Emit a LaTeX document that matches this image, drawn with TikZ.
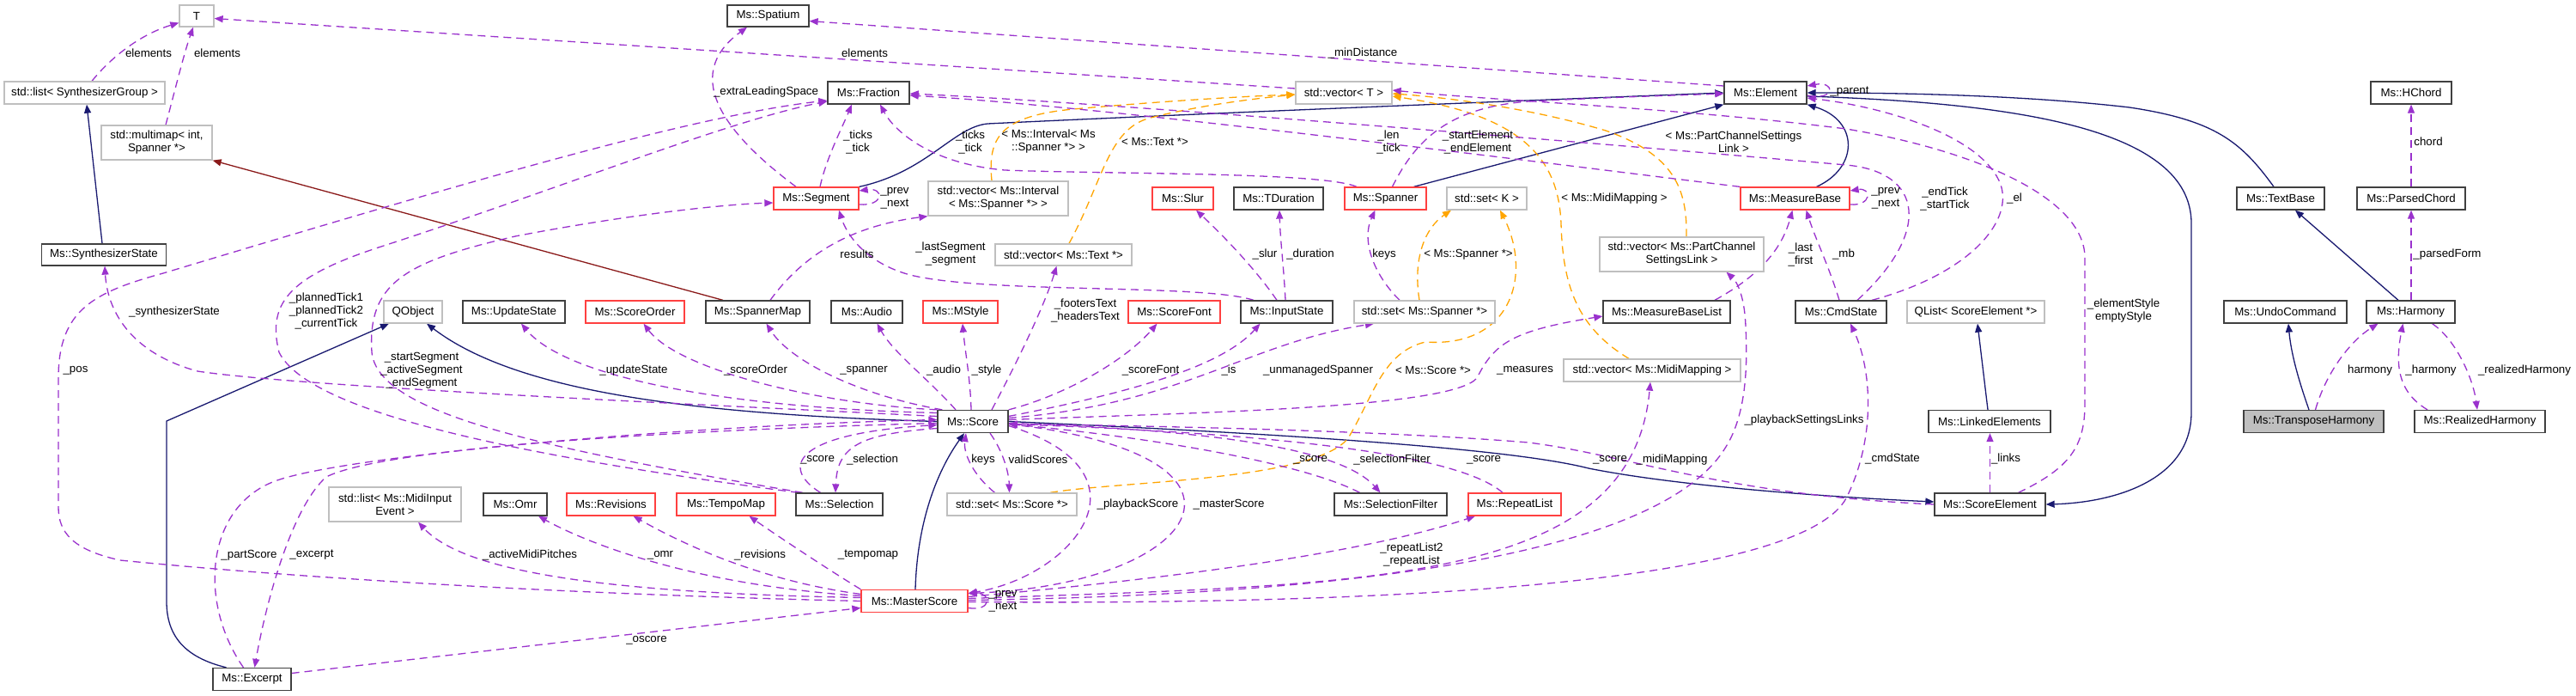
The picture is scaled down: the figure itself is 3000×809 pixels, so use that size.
\documentclass[tikz,border=0pt]{standalone}
\usepackage{fontspec}
\setmainfont{Liberation Sans}
\usetikzlibrary{arrows.meta,backgrounds}
\definecolor{navy}{HTML}{191970}
\definecolor{usec}{HTML}{9A32CD}
\definecolor{orng}{HTML}{FFA500}
\definecolor{dred}{HTML}{8B1A1A}
\definecolor{bord}{HTML}{404040}
\definecolor{redb}{HTML}{FF4040}
\definecolor{grayb}{HTML}{BFBFBF}
\newcommand\nf{\fontsize{13.3}{15}\selectfont}
\tikzset{
  cls/.style={rectangle, draw=bord, line width=1.3pt, fill=white, minimum height=26pt, inner sep=0pt, align=center, font=\nf},
  rcls/.style={cls, draw=redb},
  gcls/.style={cls, draw=grayb},
  lbl/.style={inner sep=0pt, align=center, font=\nf},
  usedge/.style={draw=usec, line width=1.3pt, dash pattern=on 9pt off 6pt, -{Triangle[length=10pt,width=8pt,fill=usec]}},
  inhedge/.style={draw=navy, line width=1.3pt, -{Triangle[length=10pt,width=8pt,fill=navy]}},
  tmpledge/.style={draw=orng, line width=1.3pt, dash pattern=on 9pt off 6pt, -{Triangle[length=10pt,width=8pt,fill=orng]}},
  instedge/.style={draw=dred, line width=1.3pt, -{Triangle[length=10pt,width=8pt,fill=dred]}},
}
\begin{document}
\begin{tikzpicture}[x=1pt,y=-1pt]
\useasboundingbox (0,0) rectangle (3000,809);
% ---------------- nodes
\node[gcls, minimum width=40pt, minimum height=25pt] (T) at (229,18.5) {T};
\node[cls, minimum width=95pt, minimum height=25pt] (spatium) at (894.5,18.5) {Ms::Spatium};
\node[gcls, minimum width=187pt] (listsg) at (98.5,108) {std::list< SynthesizerGroup >};
\node[cls, minimum width=95pt] (fraction) at (1011.5,108) {Ms::Fraction};
\node[gcls, minimum width=112pt] (vecT) at (1565,108) {std::vector< T >};
\node[cls, minimum width=96pt] (element) at (2056,108) {Ms::Element};
\node[cls, minimum width=94pt] (hchord) at (2808,108) {Ms::HChord};
\node[gcls, minimum width=129pt, minimum height=40pt] (multimap) at (182.5,166) {std::multimap< int,\\Spanner *>};
\node[rcls, minimum width=99pt] (segment) at (950.5,231) {Ms::Segment};
\node[gcls, minimum width=163pt, minimum height=40pt] (vecInt) at (1162.5,231) {std::vector< Ms::Interval\\< Ms::Spanner *> >};
\node[rcls, minimum width=71pt] (slur) at (1377.5,231) {Ms::Slur};
\node[cls, minimum width=104pt] (tduration) at (1489,231) {Ms::TDuration};
\node[rcls, minimum width=95pt] (spanner) at (1613.5,231) {Ms::Spanner};
\node[gcls, minimum width=93pt] (setK) at (1731.5,231) {std::set< K >};
\node[rcls, minimum width=127pt] (measurebase) at (2090.5,231) {Ms::MeasureBase};
\node[cls, minimum width=102pt] (textbase) at (2656,231) {Ms::TextBase};
\node[cls, minimum width=126pt] (parsedchord) at (2808,231) {Ms::ParsedChord};
\node[cls, minimum width=145pt, minimum height=25pt] (synthstate) at (121,296.5) {Ms::SynthesizerState};
\node[gcls, minimum width=159pt, minimum height=25pt] (vecText) at (1238.5,296.5) {std::vector< Ms::Text *>};
\node[gcls, minimum width=191pt, minimum height=40pt] (vecPCSL) at (1958.5,296) {std::vector< Ms::PartChannel\\SettingsLink >};
\node[gcls, minimum width=68pt] (qobject) at (481,363) {QObject};
\node[cls, minimum width=119pt] (updatestate) at (598.5,363) {Ms::UpdateState};
\node[rcls, minimum width=115pt] (scoreorder) at (739.5,363) {Ms::ScoreOrder};
\node[cls, minimum width=121pt] (spannermap) at (882.5,363) {Ms::SpannerMap};
\node[cls, minimum width=83pt] (audio) at (1009.5,363) {Ms::Audio};
\node[rcls, minimum width=87pt] (mstyle) at (1118.5,363) {Ms::MStyle};
\node[rcls, minimum width=107pt] (scorefont) at (1367.5,363) {Ms::ScoreFont};
\node[cls, minimum width=107pt] (inputstate) at (1498.5,363) {Ms::InputState};
\node[gcls, minimum width=164pt] (setSpanner) at (1659,363) {std::set< Ms::Spanner *>};
\node[cls, minimum width=148pt] (mblist) at (1941,363) {Ms::MeasureBaseList};
\node[cls, minimum width=106pt] (cmdstate) at (2144,363) {Ms::CmdState};
\node[gcls, minimum width=160pt] (qlist) at (2301,363) {QList< ScoreElement *>};
\node[cls, minimum width=143pt] (undocmd) at (2661.5,363) {Ms::UndoCommand};
\node[cls, minimum width=103pt] (harmony) at (2807.5,363) {Ms::Harmony};
\node[gcls, minimum width=206pt] (vecMidi) at (1924,431) {std::vector< Ms::MidiMapping >};
\node[cls, minimum width=82pt] (score) at (1133,490.5) {Ms::Score};
\node[cls, minimum width=142pt] (linked) at (2317,490.5) {Ms::LinkedElements};
\node[cls, minimum width=163pt, fill=grayb] (transpose) at (2694.5,490.5) {Ms::TransposeHarmony};
\node[cls, minimum width=152pt] (realized) at (2888,490.5) {Ms::RealizedHarmony};
\node[gcls, minimum width=154pt, minimum height=40pt] (listMidi) at (460,587) {std::list< Ms::MidiInput\\Event >};
\node[cls, minimum width=74pt] (omr) at (600,587) {Ms::Omr};
\node[rcls, minimum width=103pt] (revisions) at (711.5,587) {Ms::Revisions};
\node[rcls, minimum width=115pt] (tempomap) at (845.5,587) {Ms::TempoMap};
\node[cls, minimum width=101pt] (selection) at (977.5,587) {Ms::Selection};
\node[gcls, minimum width=151pt] (setScore) at (1178.5,587) {std::set< Ms::Score *>};
\node[cls, minimum width=131pt] (selfilter) at (1619.5,587) {Ms::SelectionFilter};
\node[rcls, minimum width=108pt] (repeatlist) at (1764,587) {Ms::RepeatList};
\node[cls, minimum width=129pt] (scoreelement) at (2317.5,587) {Ms::ScoreElement};
\node[rcls, minimum width=124pt] (masterscore) at (1065,699.5) {Ms::MasterScore};
\node[cls, minimum width=91pt] (excerpt) at (293.5,790.5) {Ms::Excerpt};
% ---------------- labels
\node[lbl] (l1) at (173,62) {elements};
\node[lbl] (l2) at (253,62) {elements};
\node[lbl] (l3) at (1007,62) {elements};
\node[lbl] (l4) at (1587,62) {\_minDistance};
\node[lbl] (l5) at (892,107) {\_extraLeadingSpace};
\node[lbl] (l6) at (2154,107) {\_parent};
\node[lbl] (l7) at (999,165) {\_ticks\\\_tick};
\node[lbl] (l8) at (1130,165) {\_ticks\\\_tick};
\node[lbl] (l9) at (1221,165) {< Ms::Interval< Ms\\::Spanner *> >};
\node[lbl] (l10) at (1345,165) {< Ms::Text *>};
\node[lbl] (l11) at (1617,165) {\_len\\\_tick};
\node[lbl] (l12) at (1721,165) {\_startElement\\\_endElement};
\node[lbl] (l13) at (2019,165) {< Ms::PartChannelSettings\\Link >};
\node[lbl] (l14) at (2828,165) {chord};
\node[lbl] (l15) at (1042,231) {\_prev\\\_next};
\node[lbl] (l16) at (1880,231) {< Ms::MidiMapping >};
\node[lbl] (l17) at (2196,231) {\_prev\\\_next};
\node[lbl] (l18) at (2265,231) {\_endTick\\\_startTick};
\node[lbl] (l19) at (2346,231) {\_el};
\node[lbl] (l20) at (998,296) {results};
\node[lbl] (l21) at (1107,296) {\_lastSegment\\\_segment};
\node[lbl] (l22) at (1473,296) {\_slur};
\node[lbl] (l23) at (1526,296) {\_duration};
\node[lbl] (l24) at (1612,296) {keys};
\node[lbl] (l25) at (1710,296) {< Ms::Spanner *>};
\node[lbl] (l26) at (2097,296) {\_last\\\_first};
\node[lbl] (l27) at (2147,296) {\_mb};
\node[lbl] (l28) at (2850,296) {\_parsedForm};
\node[lbl] (l29) at (203,363) {\_synthesizerState};
\node[lbl] (l30) at (380,362) {\_plannedTick1\\\_plannedTick2\\\_currentTick};
\node[lbl] (l31) at (1264,362) {\_footersText\\\_headersText};
\node[lbl] (l32) at (2473,362) {\_elementStyle\\emptyStyle};
\node[lbl] (l33) at (88,431) {\_pos};
\node[lbl] (l34) at (491,431) {\_startSegment\\\_activeSegment\\\_endSegment};
\node[lbl] (l35) at (738,431) {\_updateState};
\node[lbl] (l36) at (880,431) {\_scoreOrder};
\node[lbl] (l37) at (1006,431) {\_spanner};
\node[lbl] (l38) at (1099,431) {\_audio};
\node[lbl] (l39) at (1149,431) {\_style};
\node[lbl] (l40) at (1340,431) {\_scoreFont};
\node[lbl] (l41) at (1431,431) {\_is};
\node[lbl] (l42) at (1535,431) {\_unmanagedSpanner};
\node[lbl] (l43) at (1669,431) {< Ms::Score *>};
\node[lbl] (l44) at (1776,431) {\_measures};
\node[lbl] (l45) at (2760,431) {harmony};
\node[lbl] (l46) at (2831,431) {\_harmony};
\node[lbl] (l47) at (2940,431) {\_realizedHarmony};
\node[lbl] (l48) at (2101,489) {\_playbackSettingsLinks};
\node[lbl] (l49) at (952,535) {\_score};
\node[lbl] (l50) at (1016,535) {\_selection};
\node[lbl] (l51) at (1145,535) {keys};
\node[lbl] (l52) at (1209,535) {validScores};
\node[lbl] (l53) at (1526,535) {\_score};
\node[lbl] (l54) at (1621,535) {\_selectionFilter};
\node[lbl] (l55) at (1728,535) {\_score};
\node[lbl] (l56) at (1875,535) {\_score};
\node[lbl] (l57) at (1947,535) {\_midiMapping};
\node[lbl] (l58) at (2204,534) {\_cmdState};
\node[lbl] (l59) at (2336,534) {\_links};
\node[lbl] (l60) at (1325,587) {\_playbackScore};
\node[lbl] (l61) at (1431,587) {\_masterScore};
\node[lbl] (l62) at (290,646) {\_partScore};
\node[lbl] (l63) at (363,646) {\_excerpt};
\node[lbl] (l64) at (617,646) {\_activeMidiPitches};
\node[lbl] (l65) at (769,646) {\_omr};
\node[lbl] (l66) at (885,646) {\_revisions};
\node[lbl] (l67) at (1011,646) {\_tempomap};
\node[lbl] (l68) at (1644,646) {\_repeatList2\\\_repeatList};
\node[lbl] (l69) at (1168,699.5) {\_prev\\\_next};
\node[lbl] (l70) at (753,745) {\_oscore};
% ---------------- edges
\begin{pgfonlayer}{background}
\fill[white] (0,0) rectangle (3000,809);
% inheritance
\draw[inhedge] ([xshift=-2pt]synthstate.north) -- ([xshift=2.5pt]listsg.south);
\draw[inhedge] (score.west) .. controls (800,482) and (600,455) .. ([xshift=16pt]qobject.south);
\draw[inhedge] ([xshift=-30pt]excerpt.north) .. controls (215,765) and (194,740) .. (194,700) -- (194,490) -- ([xshift=-28pt]qobject.south);
\draw[inhedge] ([xshift=1pt]masterscore.north) .. controls (1068,610) and (1090,550) .. ([xshift=-10pt]score.south);
\draw[inhedge] (segment.north east) .. controls (1080,200) and (1110,148) .. (1150,144) .. controls (1400,132) and (1800,116) .. (element.west);
\draw[inhedge] ([xshift=33pt]spanner.north) -- (element.south west);
\draw[inhedge] ([xshift=25pt]measurebase.north) .. controls (2165,195) and (2165,140) .. (element.south east);
\draw[inhedge] ([xshift=-8pt]textbase.north) .. controls (2610,165) and (2580,140) .. (2480,125) .. controls (2350,110) and (2200,108) .. (element.east);
\draw[inhedge] ([yshift=-4pt]element.east) .. controls (2350,120) and (2552,150) .. (2552,260) -- (2552,480) .. controls (2552,560) and (2460,585) .. (scoreelement.east);
\draw[inhedge] (score.east) .. controls (1500,505) and (1760,522) .. (1850,545) .. controls (1950,565) and (2120,578) .. ([yshift=3pt]scoreelement.west);
\draw[inhedge] ([xshift=-2pt]linked.north) -- ([xshift=2pt]qlist.south);
\draw[inhedge] ([xshift=-14.5pt]harmony.north) -- ([xshift=17pt]textbase.south);
\draw[inhedge] ([xshift=-5.5pt]transpose.north) .. controls (2676,440) and (2668,410) .. ([xshift=3.5pt]undocmd.south);
% template instance
\draw[instedge] ([xshift=-40.5pt]spannermap.north) -- (multimap.south east);
% template
\draw[tmpledge] ([xshift=-7.5pt]vecInt.north) .. controls (1150,160) and (1165,135) .. (1250,127) .. controls (1350,118) and (1450,112) .. ([yshift=-2pt]vecT.west);
\draw[tmpledge] ([xshift=6.5pt]vecText.north) .. controls (1285,210) and (1290,150) .. (1340,137) .. controls (1400,122) and (1460,115) .. ([yshift=-2pt]vecT.west);
\draw[tmpledge] ([xshift=5.5pt]vecPCSL.north) .. controls (1965,220) and (1950,180) .. (1870,152) .. controls (1780,125) and (1680,113) .. ([yshift=-1pt]vecT.east);
\draw[tmpledge] ([xshift=-27pt]vecMidi.north) .. controls (1835,380) and (1820,330) .. (1818,260) .. controls (1815,190) and (1780,135) .. ([yshift=-4pt]vecT.east);
\draw[tmpledge] ([xshift=-6pt]setSpanner.north) .. controls (1645,300) and (1660,265) .. ([xshift=-41.5pt]setK.south);
\draw[tmpledge] ([xshift=44.5pt]setScore.north) .. controls (1300,560) and (1530,560) .. (1570,510) .. controls (1600,460) and (1610,410) .. (1660,398) .. controls (1760,405) and (1785,320) .. ([xshift=15.5pt]setK.south);
% usage
\draw[usedge] ([xshift=8.5pt]listsg.north) .. controls (135,60) and (170,38) .. ([yshift=-8pt]T.west);
\draw[usedge] ([xshift=10.5pt]multimap.north) .. controls (205,100) and (215,60) .. ([xshift=-4pt]T.south);
\draw[usedge] ([yshift=5pt]vecT.west) -- ([yshift=-3pt]T.east);
\draw[usedge] ([yshift=8pt]element.west) -- ([yshift=-6pt]spatium.east);
\draw[usedge] ([xshift=-23.5pt]segment.north) .. controls (850,160) and (790,90) .. ([xshift=-24.5pt]spatium.south);
\draw[usedge] ([xshift=4.5pt]segment.north) .. controls (962,185) and (980,150) .. ([xshift=-19.5pt]fraction.south);
\draw[usedge] ([xshift=-33.5pt]spanner.north) .. controls (1540,200) and (1300,203) .. (1170,198) .. controls (1080,190) and (1040,150) .. ([xshift=13.5pt]fraction.south);
\draw[usedge] (measurebase.north west) .. controls (1800,190) and (1300,125) .. ([yshift=-3pt]fraction.east);
\draw[usedge] ([xshift=19pt]cmdstate.north) .. controls (2250,270) and (2240,200) .. (2150,192) .. controls (1900,170) and (1300,120) .. ([yshift=-1pt]fraction.east);
\draw[usedge] ([xshift=33pt]scoreelement.north) .. controls (2410,545) and (2428,520) .. (2428,470) -- (2428,300) .. controls (2428,230) and (2300,175) .. (2150,150) .. controls (1950,125) and (1750,118) .. ([yshift=3pt]vecT.east);
\draw[usedge] ([xshift=36pt]cmdstate.north) .. controls (2290,320) and (2345,260) .. (2330,215) .. controls (2310,160) and (2200,125) .. ([yshift=-6pt]element.east);
\draw[usedge] ([yshift=-3pt]element.east) .. controls (2138,118) and (2138,94) .. ([yshift=8pt]element.east);
\draw[usedge] ([xshift=8pt]spanner.north) .. controls (1650,160) and (1690,125) .. (1780,118) .. controls (1880,113) and (1950,111) .. ([yshift=-1pt]element.west);
\draw[usedge] ([xshift=-38.5pt]inputstate.north) .. controls (1400,330) and (1150,342) .. (1060,320) .. controls (1005,305) and (985,270) .. ([xshift=26.5pt]segment.south);
\draw[usedge] ([xshift=-11.5pt]inputstate.north) .. controls (1460,310) and (1420,270) .. ([xshift=15.5pt]slur.south);
\draw[usedge] ([xshift=-1.5pt]inputstate.north) .. controls (1495,310) and (1491,280) .. ([xshift=1pt]tduration.south);
\draw[usedge] ([xshift=14.5pt]spannermap.north) .. controls (940,290) and (1000,262) .. (vecInt.south west);
\draw[usedge] ([yshift=-7pt]segment.east) .. controls (1030,240) and (1030,218) .. ([yshift=9pt]segment.east);
\draw[usedge] ([xshift=-42.5pt]selection.north) .. controls (620,520) and (440,480) .. (433,410) .. controls (428,330) and (470,305) .. (600,275) .. controls (730,250) and (840,238) .. ([yshift=-5pt]segment.west);
\draw[usedge] ([xshift=-47.5pt]selection.north) .. controls (600,530) and (360,480) .. (325,410) .. controls (310,350) and (340,320) .. (450,285) .. controls (650,220) and (850,140) .. ([yshift=-10pt]fraction.west);
\draw[usedge] ([yshift=6pt]score.west) .. controls (800,470) and (350,450) .. (230,432) .. controls (150,410) and (125,360) .. ([xshift=1pt]synthstate.south);
\draw[usedge] ([yshift=10pt]score.west) .. controls (850,475) and (660,440) .. ([xshift=8.5pt]updatestate.south);
\draw[usedge] (score.north west) .. controls (950,470) and (790,430) .. ([xshift=10pt]scoreorder.south);
\draw[usedge] ([xshift=6pt]score.north west) .. controls (1000,460) and (920,420) .. ([xshift=10pt]spannermap.south);
\draw[usedge] ([xshift=-20pt]score.north) .. controls (1080,440) and (1040,410) .. ([xshift=12pt]audio.south);
\draw[usedge] ([xshift=-2pt]score.north) .. controls (1130,440) and (1124,410) .. ([xshift=2.5pt]mstyle.south);
\draw[usedge] ([xshift=22pt]score.north) .. controls (1180,430) and (1215,360) .. ([xshift=-8pt]vecText.south);
\draw[usedge] (score.north east) .. controls (1240,460) and (1310,420) .. ([xshift=-20pt]scorefont.south);
\draw[usedge] ([yshift=6pt]score.east) .. controls (1300,460) and (1420,430) .. ([xshift=-31pt]inputstate.south);
\draw[usedge] ([yshift=4pt]score.east) .. controls (1380,470) and (1450,400) .. ([xshift=-59pt]setSpanner.south);
\draw[usedge] ([yshift=2pt]score.east) .. controls (1400,480) and (1690,475) .. (1720,440) .. controls (1740,400) and (1760,385) .. ([yshift=-5pt]mblist.west);
\draw[usedge] ([xshift=-22pt]selection.north) .. controls (910,545) and (920,505) .. ([yshift=-4pt]score.west);
\draw[usedge] ([yshift=-8pt]score.west) .. controls (1000,505) and (975,520) .. ([xshift=-4.5pt]selection.north);
\draw[usedge] ([xshift=-20pt]setScore.north) .. controls (1130,550) and (1122,525) .. ([xshift=-8pt]score.south);
\draw[usedge] ([xshift=20pt]score.south) .. controls (1168,525) and (1175,550) .. ([xshift=-3pt]setScore.north);
\draw[usedge] ([yshift=-5pt]score.east) .. controls (1350,550) and (1250,670) .. ([yshift=9pt]masterscore.east);
\draw[usedge] ([yshift=-3pt]score.east) .. controls (1500,530) and (1400,680) .. ([yshift=9pt]masterscore.east);
\draw[usedge] ([yshift=-2pt]score.east) .. controls (1400,500) and (1560,520) .. ([xshift=-12pt]selfilter.north);
\draw[usedge] ([xshift=-36pt]selfilter.north) .. controls (1520,540) and (1350,510) .. ([yshift=-3pt]score.east);
\draw[usedge] ([xshift=-14pt]repeatlist.north) .. controls (1700,530) and (1500,505) .. ([yshift=-3pt]score.east);
\draw[usedge] (scoreelement.west) .. controls (2000,575) and (1900,530) .. (1780,515) .. controls (1600,500) and (1300,495) .. ([yshift=-3pt]score.east);
\draw[usedge] ([yshift=3pt]masterscore.east) .. controls (1600,680) and (1900,680) .. ([xshift=-2pt]vecMidi.south);
\draw[usedge] ([yshift=1pt]masterscore.east) .. controls (1700,690) and (1950,620) .. (2010,520) .. controls (2035,480) and (2035,420) .. (2033,380) .. controls (2032,350) and (2025,330) .. ([xshift=52pt]vecPCSL.south);
\draw[usedge] ([yshift=-1pt]masterscore.east) .. controls (1700,705) and (2100,670) .. (2150,580) .. controls (2185,510) and (2180,430) .. ([xshift=11pt]cmdstate.south);
\draw[usedge] ([yshift=5pt]masterscore.east) .. controls (1400,670) and (1600,640) .. ([xshift=-46pt]repeatlist.south);
\draw[usedge] ([yshift=4pt]masterscore.west) .. controls (700,690) and (540,665) .. ([xshift=27pt]listMidi.south);
\draw[usedge] ([yshift=6pt]masterscore.west) .. controls (800,680) and (680,630) .. ([xshift=27pt]omr.south);
\draw[usedge] ([yshift=8pt]masterscore.west) .. controls (880,675) and (790,630) .. ([xshift=26pt]revisions.south);
\draw[usedge] (masterscore.north west) .. controls (960,660) and (900,620) .. ([xshift=27pt]tempomap.south);
\draw[usedge] ([yshift=-8pt]masterscore.east) .. controls (1155,712) and (1155,690) .. ([yshift=9pt]masterscore.east);
\draw[usedge] ([yshift=7pt]excerpt.east) -- ([yshift=-8pt]masterscore.west);
\draw[usedge] ([xshift=-10pt]excerpt.north) .. controls (230,700) and (240,590) .. (320,560) .. controls (400,530) and (800,495) .. ([yshift=2pt]score.west);
\draw[usedge] ([yshift=-2pt]score.west) .. controls (800,500) and (450,520) .. (380,555) .. controls (340,590) and (310,700) .. ([xshift=3pt]excerpt.north);
\draw[usedge] (masterscore.west) .. controls (600,690) and (300,668) .. (140,652) .. controls (85,640) and (68,620) .. (68,590) -- (68,440) .. controls (68,360) and (110,340) .. (190,318) .. controls (500,225) and (800,135) .. ([yshift=-9pt]fraction.west);
\draw[usedge] ([xshift=2pt]transpose.north) .. controls (2710,430) and (2740,395) .. ([xshift=-38pt]harmony.south);
\draw[usedge] ([xshift=-61pt]realized.north) .. controls (2790,455) and (2790,420) .. ([xshift=-9pt]harmony.south);
\draw[usedge] ([xshift=25pt]harmony.south) .. controls (2860,395) and (2880,440) .. ([xshift=-3pt]realized.north);
\draw[usedge] ([xshift=0.5pt]harmony.north) -- (parsedchord.south);
\draw[usedge] (parsedchord.north) -- (hchord.south);
\draw[usedge] (scoreelement.north) -- ([xshift=0.5pt]linked.south);
\draw[usedge] ([xshift=-29pt]setSpanner.north) .. controls (1600,320) and (1585,280) .. ([xshift=-12pt]spanner.south);
\draw[usedge] ([xshift=56pt]mblist.north) .. controls (2050,320) and (2075,290) .. ([xshift=-3pt]measurebase.south);
\draw[usedge] ([xshift=-2pt]cmdstate.north) .. controls (2130,310) and (2115,280) .. ([xshift=13pt]measurebase.south);
\draw[usedge] ([yshift=-7pt]measurebase.east) .. controls (2180,240) and (2180,218) .. ([yshift=9pt]measurebase.east);
\end{pgfonlayer}
\end{tikzpicture}
\end{document}
